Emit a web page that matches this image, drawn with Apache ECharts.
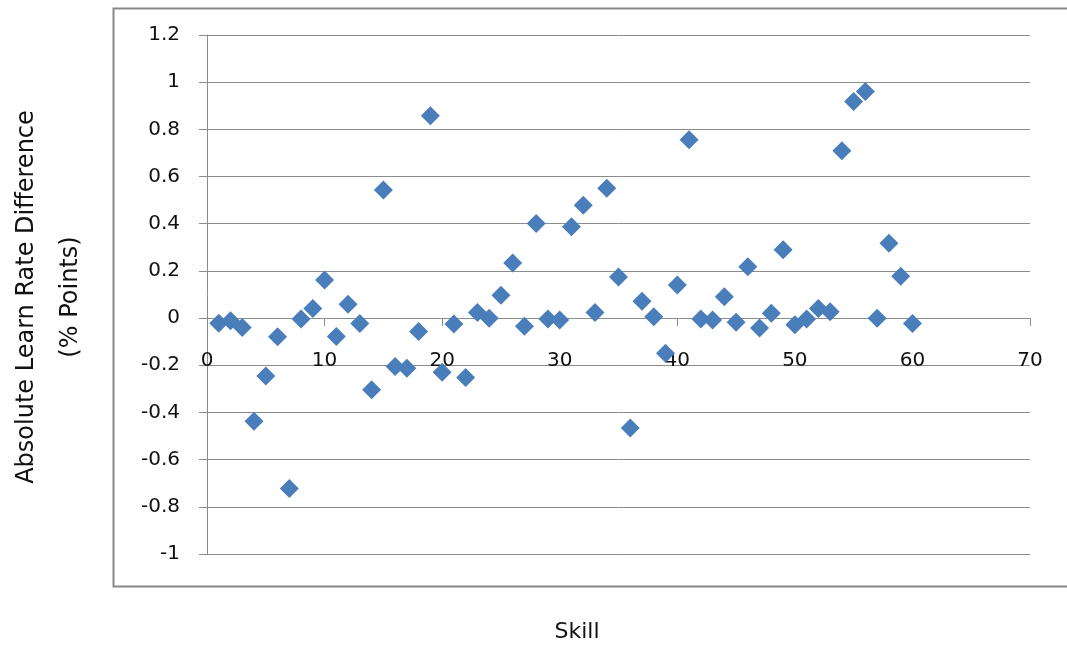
<!DOCTYPE html>
<html>
<head>
<meta charset="utf-8">
<script src="https://cdn.jsdelivr.net/npm/echarts@6/dist/echarts.min.js"></script>
<style>
  html, body { margin: 0; padding: 0; background: #ffffff; }
  #chart { width: 1067px; height: 647px; }
</style>
</head>
<body>
<div id="chart"></div>
<script>
// Skill index and the absolute learn-rate difference for each skill
const skills = [
  1, 2, 3, 4, 5, 6, 7, 8, 9, 10,
  11, 12, 13, 14, 15, 16, 17, 18, 19, 20,
  21, 22, 23, 24, 25, 26, 27, 28, 29, 30,
  31, 32, 33, 34, 35, 36, 37, 38, 39, 40,
  41, 42, 43, 44, 45, 46, 47, 48, 49, 50,
  51, 52, 53, 54, 55, 56, 57, 58, 59, 60
];
const learnRateDiff = [
  -0.022, -0.011, -0.040, -0.437, -0.245, -0.079, -0.722, -0.004, 0.041, 0.161,
  -0.078, 0.059, -0.023, -0.304, 0.543, -0.205, -0.213, -0.057, 0.858, -0.230,
  -0.025, -0.252, 0.024, -0.001, 0.097, 0.233, -0.035, 0.401, -0.004, -0.008,
  0.387, 0.478, 0.024, 0.550, 0.174, -0.466, 0.071, 0.006, -0.149, 0.140,
  0.756, -0.004, -0.008, 0.090, -0.018, 0.218, -0.042, 0.021, 0.290, -0.028,
  -0.004, 0.041, 0.027, 0.709, 0.918, 0.961, -0.001, 0.317, 0.177, -0.023
];

const xTitle = 'Skill';
const yTitle = 'Absolute Learn Rate Difference\n(% Points)';

const points = skills.map((s, i) => [s, learnRateDiff[i]]);

const FONT = 'DejaVu Sans';
const GRID_GREY = '#8c8c8c';
const TEXT = '#111111';

// plot box in pixels; the horizontal axis sits on the y = 0 line
const GRID = { left: 207, right: 37, top: 35, bottom: 93 };
const Y_MIN = -1, Y_MAX = 1.2;
const plotH = 647 - GRID.top - GRID.bottom;
const zeroOffset = -plotH * (0 - Y_MIN) / (Y_MAX - Y_MIN);

const chart = echarts.init(document.getElementById('chart'), null, { renderer: 'canvas' });

chart.setOption({
  animation: false,
  backgroundColor: '#ffffff',
  grid: Object.assign({ containLabel: false }, GRID),
  xAxis: {
    type: 'value',
    position: 'bottom',
    offset: zeroOffset,
    min: 0,
    max: 70,
    interval: 10,
    axisLine: { onZero: false, lineStyle: { color: GRID_GREY, width: 1 } },
    axisTick: { show: true, inside: false, length: 8, lineStyle: { color: GRID_GREY } },
    axisLabel: { color: TEXT, fontFamily: FONT, fontSize: 20, margin: 33 },
    splitLine: { show: false }
  },
  yAxis: {
    type: 'value',
    min: Y_MIN,
    max: Y_MAX,
    interval: 0.2,
    axisLine: { show: true, lineStyle: { color: GRID_GREY, width: 1 } },
    axisTick: { show: true, inside: false, length: 8, lineStyle: { color: GRID_GREY } },
    axisLabel: {
      color: TEXT, fontFamily: FONT, fontSize: 20, margin: 27,
      formatter: v => String(Math.round(v * 10) / 10)
    },
    splitLine: { show: true, lineStyle: { color: GRID_GREY, width: 1 } }
  },
  series: [{
    type: 'scatter',
    data: points,
    symbol: 'diamond',
    symbolSize: 19,
    itemStyle: { color: '#4a7ebb', opacity: 1 }
  }],
  graphic: [
    {
      type: 'rect',
      left: 111, top: 6,
      shape: { x: 0, y: 0, width: 965, height: 578 },
      style: { fill: 'none', stroke: '#888888', lineWidth: 2 },
      silent: true
    },
    {
      type: 'text',
      x: 49, y: 297,
      rotation: Math.PI / 2,
      style: {
        text: yTitle,
        font: '24px "' + FONT + '"',
        fill: TEXT,
        textAlign: 'center',
        textVerticalAlign: 'middle',
        lineHeight: 44
      }
    },
    {
      type: 'text',
      x: 577, y: 632,
      style: {
        text: xTitle,
        font: '22px "' + FONT + '"',
        fill: TEXT,
        textAlign: 'center',
        textVerticalAlign: 'middle'
      }
    }
  ]
});
</script>
</body>
</html>
